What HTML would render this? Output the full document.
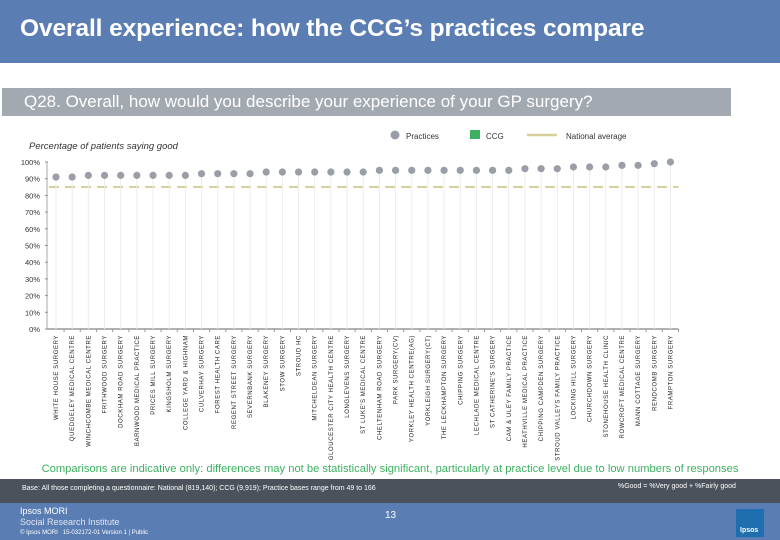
<!DOCTYPE html>
<html><head><meta charset="utf-8"><style>
body{margin:0;width:780px;height:540px;overflow:hidden;background:#fff;font-family:"Liberation Sans",sans-serif;position:relative}
.abs{position:absolute}
</style></head><body>
<div class="abs" style="left:0;top:0;width:780px;height:63px;background:#5a7db3"></div>
<div class="abs" style="left:20px;top:15px;color:#fff;font-size:24.5px;font-weight:bold;letter-spacing:-0.1px">Overall experience: how the CCG’s practices compare</div>
<div class="abs" style="left:2px;top:88px;width:729px;height:28px;background:#a3a9b1"></div>
<div class="abs" style="left:24px;top:92px;color:#fff;font-size:17px">Q28. Overall, how would you describe your experience of your GP surgery?</div>
<div class="abs" style="left:29px;top:141px;color:#333;font-size:9.5px;font-style:italic">Percentage of patients saying good</div>

<svg class="abs" style="left:0;top:0" width="780" height="540">
<g id="legend">
 <circle cx="395" cy="135" r="4.5" fill="#9a9ea6"/>
 <text x="406" y="139" font-size="8" fill="#333">Practices</text>
 <rect x="470" y="130" width="10" height="9" fill="#3cb060"/>
 <text x="486" y="139" font-size="8" fill="#333">CCG</text>
 <line x1="527" y1="135" x2="557" y2="135" stroke="#d8d09a" stroke-width="2.5"/>
 <text x="566" y="139" font-size="8" fill="#333">National average</text>
</g>
<g id="axes"></g>
<g id="marks"></g>
<g id="xlabels"></g>
</svg>

<div class="abs" style="left:0;width:780px;top:463px;text-align:center;color:#3cb060;font-size:11.2px">Comparisons are indicative only: differences may not be statistically significant, particularly at practice level due to low numbers of responses</div>
<div class="abs" style="left:0;top:479px;width:780px;height:24px;background:#4b525c"></div>
<div class="abs" style="left:22px;top:485px;color:#fff;font-size:7px">Base: All those completing a questionnaire: National (819,140); CCG (9,919); Practice bases range from 49 to 166</div>
<div class="abs" style="left:618px;top:483px;color:#fff;font-size:7px">%Good = %Very good + %Fairly good</div>
<div class="abs" style="left:0;top:503px;width:780px;height:37px;background:#5a7db3"></div>
<div class="abs" style="left:20px;top:506px;color:#fff;font-size:9px;line-height:11px">Ipsos MORI<br><span style="color:#dfe6f2">Social Research Institute</span></div>
<div class="abs" style="left:20px;top:530px;color:#fff;font-size:6px">© Ipsos MORI &nbsp;&nbsp;15-032172-01 Version 1 | Public</div>
<div class="abs" style="left:385px;top:510px;color:#fff;font-size:10px">13</div>
<div class="abs" style="left:736px;top:509px;width:28px;height:28px;background:#1f6fb0"><div style="position:absolute;left:4px;top:18px;color:#fff;font-size:7px;font-weight:bold">Ipsos</div></div>

<script>
const categories=["WHITE HOUSE SURGERY","QUEDGELEY MEDICAL CENTRE","WINCHCOMBE MEDICAL CENTRE","FRITHWOOD SURGERY","DOCKHAM ROAD SURGERY","BARNWOOD MEDICAL PRACTICE","PRICES MILL SURGERY","KINGSHOLM SURGERY","COLLEGE YARD & HIGHNAM","CULVERHAY SURGERY","FOREST HEALTH CARE","REGENT STREET SURGERY","SEVERNBANK SURGERY","BLAKENEY SURGERY","STOW SURGERY","STROUD HC","MITCHELDEAN SURGERY","GLOUCESTER CITY HEALTH CENTRE","LONGLEVENS SURGERY","ST LUKE'S MEDICAL CENTRE","CHELTENHAM ROAD SURGERY","PARK SURGERY(CV)","YORKLEY HEALTH CENTRE(AG)","YORKLEIGH SURGERY(CT)","THE LECKHAMPTON SURGERY","CHIPPING SURGERY","LECHLADE MEDICAL CENTRE","ST CATHERINE'S SURGERY","CAM & ULEY FAMILY PRACTICE","HEATHVILLE MEDICAL PRACTICE","CHIPPING CAMPDEN SURGERY","STROUD VALLEYS FAMILY PRACTICE","LOCKING HILL SURGERY","CHURCHDOWN SURGERY","STONEHOUSE HEALTH CLINIC","ROWCROFT MEDICAL CENTRE","MANN COTTAGE SURGERY","RENDCOMB SURGERY","FRAMPTON SURGERY"];
const practiceValues=[91,91,92,92,92,92,92,92,92,93,93,93,93,94,94,94,94,94,94,94,95,95,95,95,95,95,95,95,95,96,96,96,97,97,97,98,98,99,100];
const nationalAverage=85;
const yTicks=[0,10,20,30,40,50,60,70,80,90,100];
const NS="http://www.w3.org/2000/svg";
const x0=56,step=16.17,yBase=329,yTop=162;
function xPos(i){return x0+i*step;}
function yPos(v){return yBase-(v/100)*(yBase-yTop);}
function mk(tag,attrs,parent){const e=document.createElementNS(NS,tag);for(const k in attrs)e.setAttribute(k,attrs[k]);parent.appendChild(e);return e;}
const axes=document.getElementById('axes'),marks=document.getElementById('marks'),xl=document.getElementById('xlabels');
yTicks.forEach(t=>{
  const tx=mk('text',{x:40,y:yPos(t)+3,'font-size':7.5,fill:'#333','text-anchor':'end'},axes);
  tx.textContent=t+'%';
  
  
  const tk=mk('line',{x1:45,x2:48,y1:yPos(t),y2:yPos(t),stroke:'#888'},axes);
  
  
});
const ya=mk('line',{x1:47,x2:47,y1:yPos(100),y2:yBase,stroke:'#aaa'},axes);


const xa=mk('line',{x1:47,x2:xPos(categories.length-1)+8,y1:yBase,y2:yBase,stroke:'#999','stroke-width':1.5},axes);


const nl=mk('line',{x1:49,x2:xPos(categories.length-1)+8,y1:yPos(nationalAverage),y2:yPos(nationalAverage),stroke:'#d8d09a','stroke-width':2,'stroke-dasharray':'10,6'},marks);


categories.forEach((c,i)=>{
  const x=xPos(i),v=practiceValues[i];
  const st=mk('line',{x1:x,x2:x,y1:yPos(v),y2:yBase,stroke:'#ececec','stroke-width':1},marks);
  
  
  const dt=mk('circle',{cx:x,cy:yPos(v),r:3.6,fill:'#9a9ea6'},marks);
  
  
  const tk=mk('line',{x1:x+step/2,x2:x+step/2,y1:yBase,y2:yBase+3,stroke:'#999'},axes);
  
  
  const t=mk('text',{x:0,y:0,'font-size':6,fill:'#222','text-anchor':'end','letter-spacing':'0.6',transform:`translate(${x+2},${yBase+6}) rotate(-90)`},xl);
  t.textContent=c;
  
  
});
</script>
</body></html>
